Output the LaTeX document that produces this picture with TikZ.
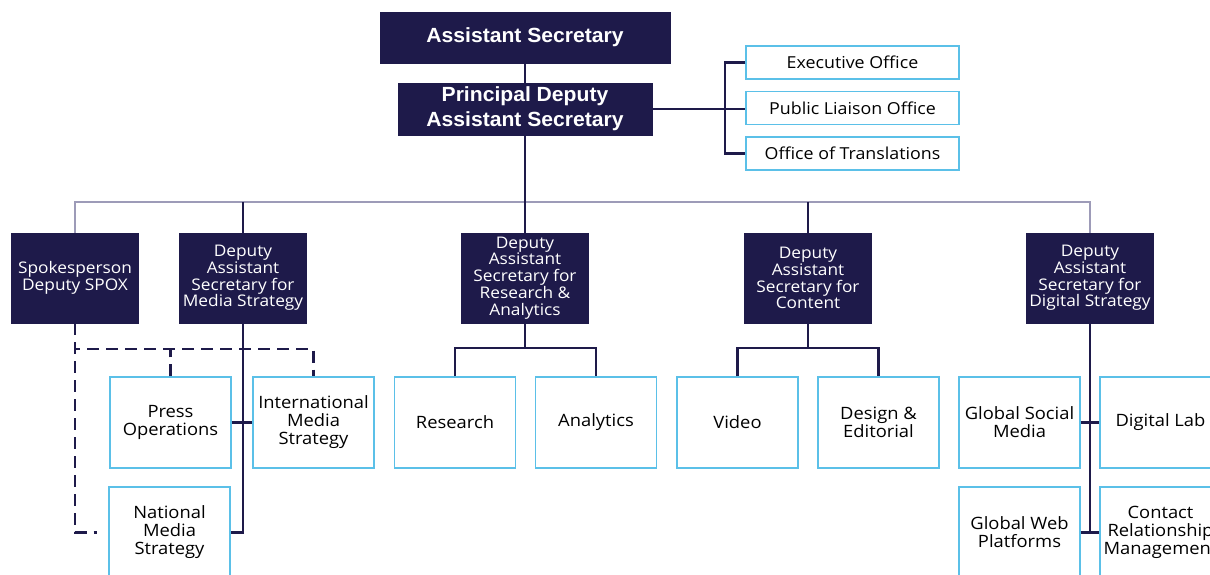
\documentclass[tikz,border=0pt]{standalone}
\usepackage{fontspec}
\setmainfont{Open Sans}[FakeStretch=1.08]
\newfontfamily\headfont{Liberation Sans}
\usepackage{graphicx}
\definecolor{navy}{HTML}{1E1A4A}
\definecolor{skyb}{HTML}{5BC0E8}
\definecolor{lgray}{HTML}{9D9BB8}
\newcommand{\cond}[1]{\raisebox{-2.5pt}{\scalebox{1.03}[1]{#1}}}
\begin{document}
\begin{tikzpicture}[x=1pt,y=-1pt,
 topbox/.style={fill=navy, draw=navy, text=white, inner sep=0pt, font=\headfont\bfseries\fontsize{20.5}{24}\selectfont, align=center},
 dasbox/.style={fill=navy, draw=navy, text=white, minimum width=127, minimum height=90, inner sep=0pt, font=\fontsize{16}{16.8}\selectfont, align=center},
 unitbox/.style={draw=skyb, line width=1.3pt, fill=white, minimum width=121, minimum height=91, inner sep=0pt, font=\fontsize{17}{18}\selectfont, align=center},
 offbox/.style={draw=skyb, line width=1.3pt, fill=white, minimum width=213, minimum height=33, inner sep=0pt, font=\fontsize{16.5}{18}\selectfont},
 link/.style={draw=navy, line width=2.2pt},
 glink/.style={draw=lgray, line width=2pt},
 dlink/.style={draw=navy, line width=2.2pt, dash pattern=on 12pt off 7pt}]
\useasboundingbox (0,0) rectangle (1210,574);
\clip (0,0) rectangle (1210,574);

% top level
\node[topbox, minimum width=290, minimum height=51] (as) at (525,37.5) {\cond{Assistant Secretary}};
\node[topbox, minimum width=254, minimum height=52] (pdas) at (525,109) {\cond{Principal Deputy}\\[1pt]\cond{Assistant Secretary}};
\node[offbox] (exec) at (852.5,62.5) {Executive Office};
\node[offbox] (pub) at (852.5,108) {Public Liaison Office};
\node[offbox] (trans) at (852.5,153.5) {Office of Translations};

% level 2
\node[dasbox] (spox) at (75,278) {Spokesperson\\Deputy SPOX};
\node[dasbox] (media) at (243,278) {Deputy\\Assistant\\Secretary for\\Media Strategy};
\node[dasbox] (rdas) at (525,278) {Deputy\\Assistant\\Secretary for\\Research \&\\Analytics};
\node[dasbox] (cdas) at (808,278) {Deputy\\Assistant\\Secretary for\\Content};
\node[dasbox] (dig) at (1090,278) {Deputy\\Assistant\\Secretary for\\Digital Strategy};

% level 3
\node[unitbox] (press) at (170.5,422.5) {Press\\Operations};
\node[unitbox] (intl) at (313.5,422.5) {International\\Media\\Strategy};
\node[unitbox] (natl) at (169.5,532.5) {National\\Media\\Strategy};
\node[unitbox] (res) at (455,422.5) {Research};
\node[unitbox] (ana) at (596,422.5) {Analytics};
\node[unitbox] (vid) at (737.5,422.5) {Video};
\node[unitbox] (des) at (878.5,422.5) {Design \&\\Editorial};
\node[unitbox] (gsm) at (1019.5,422.5) {Global Social\\Media};
\node[unitbox] (dlab) at (1160.5,422.5) {Digital Lab};
\node[unitbox] (gweb) at (1019.5,532.5) {Global Web\\Platforms};
\node[unitbox] (crm) at (1160.5,532.5) {Contact\\Relationship\\Management};

% connectors top
\draw[link] (as) -- (pdas);
\draw[link] (pdas.east) -- (pdas.east -| pub.west);
\draw[link] (exec.west) -- ++(-20,0) |- (trans.west);

% bus
\draw[glink] (spox.north) -- ++(0,-31) -| (dig.north);
\draw[link] (pdas.south) -- (rdas.north);
\draw[link] (media.north) -- ++(0,-31);
\draw[link] (cdas.north) -- ++(0,-31);

% media strategy
\draw[link] (media.south) -- (media.south |- natl.east) -- (natl.east);
\draw[link] (press.east) -- (intl.west);
\draw[dlink] (spox.south) |- ([xshift=-11pt]natl.west);
\draw[dlink] (spox.south) -- ++(0,26) -| (intl.north);
\draw[dlink] (press.north) -- ++(0,-28);

% research & content
\draw[link] (rdas.south) -- ++(0,25) coordinate (rj);
\draw[link] (res.north) |- (rj) -| (ana.north);
\draw[link] (cdas.south) -- ++(0,25) coordinate (cj);
\draw[link] (vid.north) |- (cj) -| (des.north);

% digital
\draw[link] (dig.south) -- (dig.south |- gweb.east);
\draw[link] (gsm.east) -- (dlab.west);
\draw[link] (gweb.east) -- (crm.west);
\end{tikzpicture}
\end{document}
